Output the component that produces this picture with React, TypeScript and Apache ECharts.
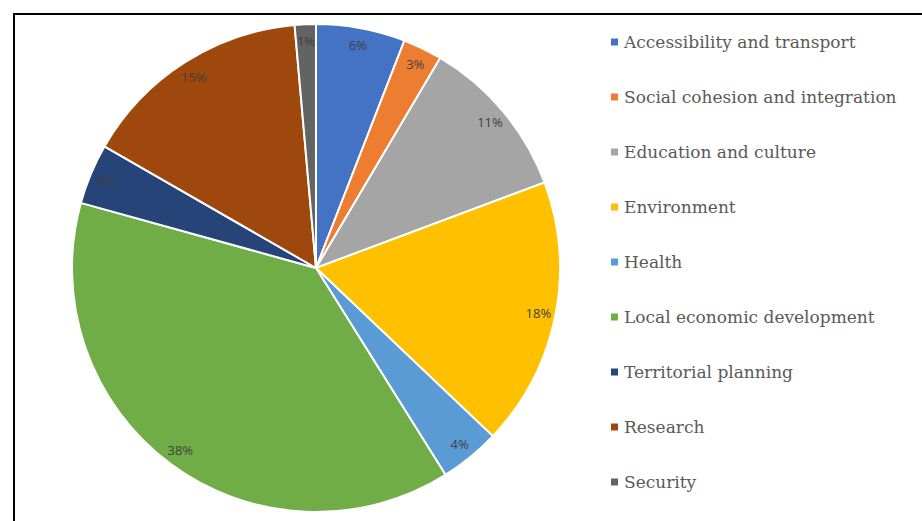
import React, { useEffect, useRef } from "react";
import * as echarts from "echarts";

const categories = [
  "Accessibility and transport",
  "Social cohesion and integration",
  "Education and culture",
  "Environment",
  "Health",
  "Local economic development",
  "Territorial planning",
  "Research",
  "Security",
];
const values = [5.9, 2.6, 10.8, 17.8, 4.0, 38.2, 4.0, 15.3, 1.4];
const colors = [
  "#4472C4",
  "#ED7D31",
  "#A5A5A5",
  "#FFC000",
  "#5B9BD5",
  "#70AD47",
  "#264478",
  "#9E480E",
  "#636363",
];

export default function App() {
  const ref = useRef<HTMLDivElement>(null);
  useEffect(() => {
    if (!ref.current) return;
    const chart = echarts.init(ref.current, undefined, { renderer: "svg" });
    const data = categories.map((name, i) => ({
      name,
      value: values[i],
      itemStyle: { color: colors[i] },
    }));
    chart.setOption({
      animation: false,
      backgroundColor: "#ffffff",
      graphic: [
        {
          type: "rect",
          shape: { x: 14, y: 14, width: 940, height: 540 },
          style: { fill: "none", stroke: "#000000", lineWidth: 2 },
          z: 100,
        },
      ],
      legend: {
        orient: "vertical",
        left: 604,
        top: 27,
        icon: "rect",
        itemWidth: 9,
        itemHeight: 9,
        itemGap: 35,
        data: categories,
        textStyle: {
          fontFamily: "'DejaVu Serif', serif",
          fontSize: 17,
          color: "#595959",
          lineHeight: 20,
          padding: [0, 0, 0, 0],
        },
      },
      series: [
        {
          type: "pie",
          center: [316, 268],
          radius: [0, 244],
          startAngle: 90,
          clockwise: true,
          percentPrecision: 0,
          label: { show: false },
          labelLine: { show: false },
          itemStyle: { borderColor: "#ffffff", borderWidth: 2 },
          emphasis: { disabled: true },
          data,
        },
        {
          type: "pie",
          center: [316, 268],
          radius: [204, 244],
          startAngle: 90,
          clockwise: true,
          percentPrecision: 0,
          silent: true,
          legendHoverLink: false,
          itemStyle: { color: "rgba(0,0,0,0)" },
          label: {
            show: true,
            position: "inside",
            rotate: 0,
            formatter: "{d}%",
            fontFamily: "'Open Sans', sans-serif",
            fontSize: 13,
            color: "#404040",
          },
          labelLine: { show: false },
          emphasis: { disabled: true },
          data: categories.map((name, i) => ({ name, value: values[i] })),
        },
      ],
    });
    return () => chart.dispose();
  }, []);
  return (
    <div
      ref={ref}
      style={{ position: "fixed", left: 0, top: 0, width: 922, height: 521 }}
    />
  );
}
